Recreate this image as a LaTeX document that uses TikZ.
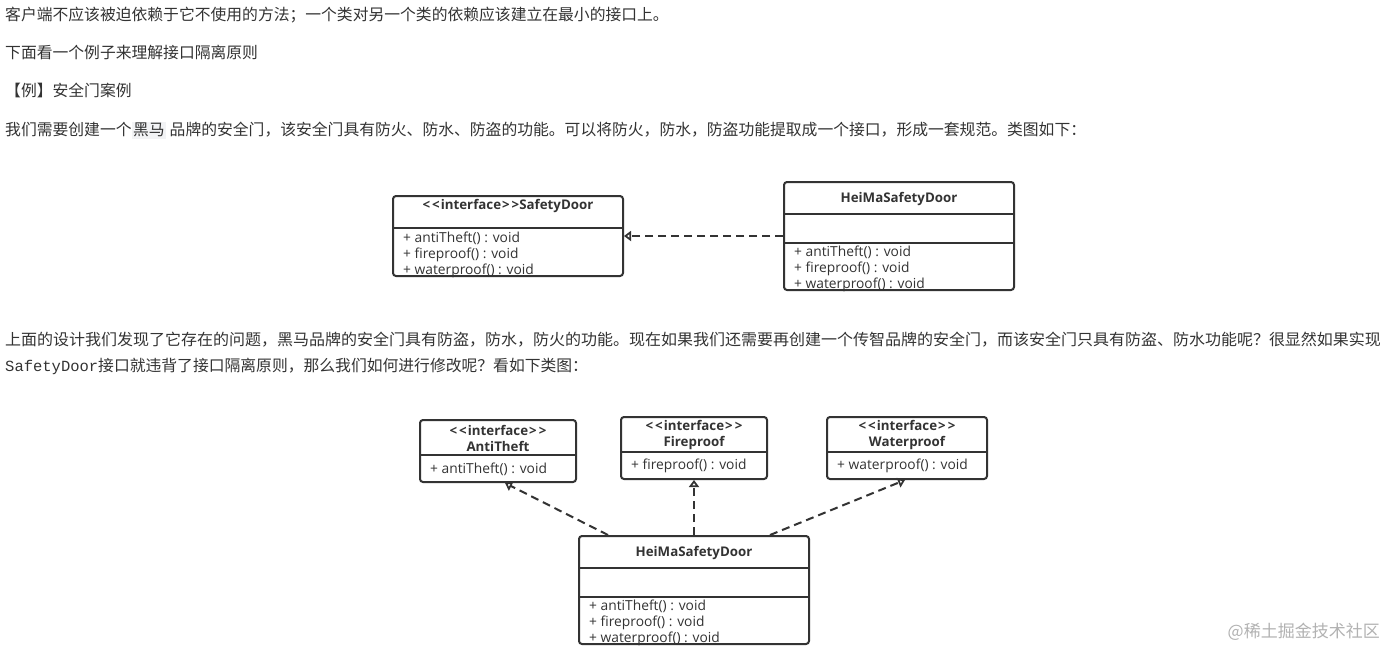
\documentclass[tikz,border=0pt]{standalone}
\usepackage{fontspec}
\setmainfont{Noto Sans CJK SC}
\newfontfamily\umlfont{Open Sans}
\newfontfamily\codefont{Liberation Mono}
\usetikzlibrary{arrows.meta}
\definecolor{txtgray}{HTML}{333333}
\definecolor{codebg}{HTML}{F2F3F5}
\definecolor{linegray}{HTML}{333333}
\newcommand\stereo[1]{<\kern2pt<\kern1pt#1\kern1pt>\kern2pt>}
\tikzset{
  para/.style={anchor=west, inner sep=0pt, text=txtgray, font=\fontsize{15.8}{18}\selectfont},
  classbox/.style={draw=linegray, line width=2pt, rounded corners=3pt, inner sep=0pt},
  title/.style={inner sep=0pt, text=txtgray, align=center, font=\umlfont\bfseries\fontsize{13.3}{16}\selectfont},
  member/.style={anchor=west, inner sep=0pt, text=txtgray, align=left, font=\umlfont\fontsize{13.8}{16}\selectfont},
  sepline/.style={draw=linegray, line width=1.6pt},
  realize/.style={draw=linegray, line width=2pt, dash pattern=on 8pt off 5pt,
    -{Triangle[open, length=7pt, width=10pt]}}
}

\begin{document}
\begin{tikzpicture}[x=1pt, y=-1pt]
  \fill[white] (0,0) rectangle (1385,649);
  \useasboundingbox (0,0) rectangle (1385,649);
  % text paragraphs
  \node[para] (line1) at (5,15) {客户端不应该被迫依赖于它不使用的方法；一个类对另一个类的依赖应该建立在最小的接口上。};
  \node[para] (line2) at (5,52) {下面看一个例子来理解接口隔离原则};
  \node[para] (line3) at (5,90) {【例】安全门案例};
  \node[para] (line4) at (5,130) {我们需要创建一个{\setlength\fboxsep{1.5pt}\colorbox{codebg}{黑马}} 品牌的安全门，该安全门具有防火、防水、防盗的功能。可以将防火，防水，防盗功能提取成一个接口，形成一套规范。类图如下：};
  \node[para] (line5) at (5,340) {\scalebox{1.0125}[1]{上面的设计我们发现了它存在的问题，黑马品牌的安全门具有防盗，防水，防火的功能。现在如果我们还需要再创建一个传智品牌的安全门，而该安全门只具有防盗、防水功能呢？很显然如果实现}};
  \node[para] (line6) at (5,366) {{\codefont\fontsize{15.5}{18}\selectfont SafetyDoor}接口就违背了接口隔离原则，那么我们如何进行修改呢？看如下类图：};

  % first class diagram
  \node[classbox, minimum width=230pt, minimum height=80pt] (sd) at (508,236) {};
  \draw[sepline] (sd.west |- 0,228) -- (sd.east |- 0,228);
  \node[title] (sdname) at (508,206) {\stereo{interface}SafetyDoor};
  \node[member] (sdops) at (403,255) {+ antiTheft() : void\\+ fireproof() : void\\+ waterproof() : void};

  \node[classbox, minimum width=230pt, minimum height=108pt] (hm1) at (899,236) {};
  \draw[sepline] (hm1.west |- 0,214) -- (hm1.east |- 0,214);
  \draw[sepline] (hm1.west |- 0,243) -- (hm1.east |- 0,243);
  \node[title] (hm1name) at (899,199) {HeiMaSafetyDoor};
  \node[member] (hm1ops) at (794,269) {+ antiTheft() : void\\+ fireproof() : void\\+ waterproof() : void};

  \draw[realize] (hm1.west) -- (sd.east);

  % second class diagram
  \node[classbox, minimum width=156pt, minimum height=62pt] (anti) at (498,451) {};
  \draw[sepline] (anti.west |- 0,455) -- (anti.east |- 0,455);
  \node[title] (antiname) at (498,438) {\stereo{interface}\\AntiTheft};
  \node[member] (antiops) at (430,469) {+ antiTheft() : void};

  \node[classbox, minimum width=146pt, minimum height=62pt] (fire) at (694,448) {};
  \draw[sepline] (fire.west |- 0,452) -- (fire.east |- 0,452);
  \node[title] (firename) at (694,435) {\stereo{interface}\\Fireproof};
  \node[member] (fireops) at (631,466) {+ fireproof() : void};

  \node[classbox, minimum width=160pt, minimum height=62pt] (water) at (907,448) {};
  \draw[sepline] (water.west |- 0,452) -- (water.east |- 0,452);
  \node[title] (watername) at (907,435) {\stereo{interface}\\Waterproof};
  \node[member] (waterops) at (837,466) {+ waterproof() : void};

  \node[classbox, minimum width=230pt, minimum height=108pt] (hm2) at (694,590) {};
  \draw[sepline] (hm2.west |- 0,568) -- (hm2.east |- 0,568);
  \draw[sepline] (hm2.west |- 0,597) -- (hm2.east |- 0,597);
  \node[title] (hm2name) at (694,553) {HeiMaSafetyDoor};
  \node[member] (hm2ops) at (589,623) {+ antiTheft() : void\\+ fireproof() : void\\+ waterproof() : void};

  \draw[realize] ([xshift=-86pt]hm2.north) -- ([xshift=7pt]anti.south);
  \draw[realize] (hm2.north) -- (fire.south);
  \draw[realize] ([xshift=76pt]hm2.north) -- ([xshift=-2pt]water.south);

  % watermark
  \node[anchor=east, inner sep=0pt, text=black!30, font=\fontsize{17}{20}\selectfont] (mark) at (1380,632) {@稀土掘金技术社区};
\end{tikzpicture}
\end{document}
